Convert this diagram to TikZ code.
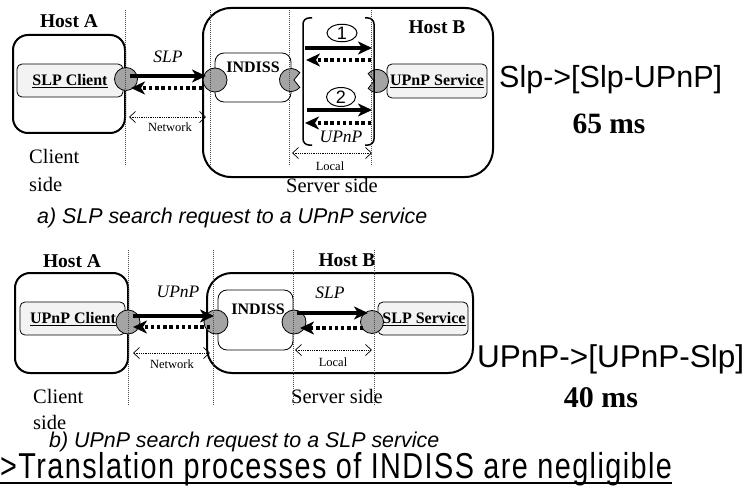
\documentclass[tikz,border=0pt]{standalone}
\usepackage{fontspec}
\setmainfont{Liberation Serif}
\setsansfont{Liberation Sans}
\newfontfamily\narrowsans[FakeStretch=0.8, LetterSpace=4]{Liberation Sans}
\usetikzlibrary{arrows.meta,shapes.geometric}
\definecolor{portgray}{HTML}{A4A4A4}
\definecolor{boxgray}{HTML}{F3F3F3}
\newcommand\fsz[1]{\fontsize{#1}{#1}\selectfont}
% a port drawn as a disc with a shallow wedge cut out, facing the given angle
\newcommand\mouthport[4]{%
  \coordinate (#1) at (#2,#3);
  \filldraw[fill=portgray, draw=black, line width=0.8pt, shift={(#1)}, rotate=#4]
    (40:11.5pt) arc[start angle=40, end angle=320, radius=11.5pt] -- (3pt,0pt) -- cycle;}
\begin{document}
\begin{tikzpicture}[x=1pt,y=-1pt,
  hostbox/.style={draw, line width=2pt, rounded corners=15pt, inner sep=0pt},
  inbox/.style={draw, line width=0.8pt, fill=boxgray, rounded corners=5pt, inner sep=0pt},
  indissbox/.style={draw, line width=0.8pt, fill=white, rounded corners=9pt, inner sep=0pt},
  port/.style={circle, draw, line width=0.8pt, fill=portgray, inner sep=0pt},
  req/.style={line width=3.2pt, -{Stealth[length=14pt, width=13pt, inset=4pt]}},
  resp/.style={line width=3.4pt, dash pattern=on 3.4pt off 2.8pt,
    -{Stealth[length=14pt, width=13pt, inset=4pt]}},
  span/.style={line width=0.6pt, dash pattern=on 0.8pt off 1pt,
    {Straight Barb[length=6pt, width=11pt, line width=0.7pt]}-{Straight Barb[length=6pt, width=11pt, line width=0.7pt]}},
  divider/.style={line width=0.6pt, dash pattern=on 0.8pt off 1.2pt, black!70},
  stepmark/.style={ellipse, draw, line width=1pt, inner sep=0pt, font=\sffamily\fsz{18}},
  hostlabel/.style={font=\bfseries\fsz{19.5}},
  svclabel/.style={font=\bfseries\fsz{16}},
  proto/.style={font=\itshape\fsz{17.5}},
  tiny/.style={font=\fsz{12.5}},
  sidelabel/.style={font=\fsz{20.5}},
  caption/.style={font=\sffamily\itshape\fsz{21.4}, anchor=base west, inner sep=0pt},
  result/.style={font=\sffamily\fsz{30.5}, anchor=base west, inner sep=0pt},
  timing/.style={font=\bfseries\fsz{29.5}, anchor=base, inner sep=0pt}
]
\useasboundingbox (0,0) rectangle (756,495);

% ---------------- a) SLP client -> UPnP service ----------------
\node[hostbox, minimum width=112pt, minimum height=98pt] (hostA1) at (69,84) {};
\node[hostbox, rounded corners=28pt, minimum width=290pt, minimum height=169pt] (hostB1) at (348,92.5) {};
\node[inbox, minimum width=106pt, minimum height=33pt] (slpclient) at (70,80.5) {};
\node[svclabel] at (70,81) {\underline{SLP Client}};
\node[indissbox, minimum width=76pt, minimum height=49pt] (indiss1) at (253,77.5) {};
\node[svclabel] at (253,67) {INDISS};
\node[inbox, minimum width=100pt, minimum height=34pt] (upnpsvc) at (437,81) {};
\node[svclabel] at (437,81.5) {\underline{UPnP Service}};

\node[port, minimum size=23pt] (pA1) at (126,79) {};
\node[port, minimum size=24pt] (pI1) at (215,80) {};
\mouthport{pJ1}{291}{80}{0}
\mouthport{pS1}{377}{81}{180}

% local exchange bracket
\draw[line width=1.5pt, rounded corners=6pt] (312,18) -- (303,18) -- (303,145) -- (312,145);
\draw[line width=1.5pt, rounded corners=6pt] (365,18) -- (374,18) -- (374,145) -- (365,145);
\node[stepmark, minimum width=30pt, minimum height=17pt] (m1) at (342,33) {1};
\node[stepmark, minimum width=29pt, minimum height=19pt] (m2) at (341,97) {2};

\draw[req]  ([shift={(4pt,3pt)}]pA1.center) -- ([shift={(-9pt,4pt)}]pI1.center);
\draw[resp] ([shift={(-13pt,-8pt)}]pI1.center) -- ([shift={(5pt,-9pt)}]pA1.center);
\draw[req]  ([shift={(14pt,32pt)}]pJ1) -- ([shift={(-5pt,33pt)}]pS1);
\draw[resp] ([shift={(-6pt,21pt)}]pS1) -- ([shift={(15pt,20pt)}]pJ1);
\draw[req]  ([shift={(16pt,-30pt)}]pJ1) -- ([shift={(-5pt,-29pt)}]pS1);
\draw[resp] ([shift={(-6pt,-42pt)}]pS1) -- ([shift={(14pt,-43pt)}]pJ1);
\draw[span] ([shift={(3pt,-38pt)}]pA1.center) -- ([shift={(-9pt,-37pt)}]pI1.center);
\draw[span] ([shift={(1pt,-73pt)}]pJ1) -- ([shift={(-5pt,-72pt)}]pS1);

\node[hostlabel] at (69,21) {Host A};
\node[hostlabel] at (437,27) {Host B};
\node[proto] at (168,57) {SLP};
\node[proto] at (341,137) {UPnP};
\node[tiny] at (170,127) {Network};
\node[tiny] at (330,166) {Local};
\node[sidelabel, anchor=base west, inner sep=0pt] at (29,164) {Client};
\node[sidelabel, anchor=base west, inner sep=0pt] at (29,191) {side};
\node[sidelabel, anchor=base, inner sep=0pt] at (332,193) {Server side};
\node[caption] at (37,223) {a) SLP search request to a UPnP service};
\node[result] at (499,88) {Slp->[Slp-UPnP]};
\node[timing] at (609,133) {65 ms};

\foreach \x in {125,210,289,371} \draw[divider] (\x,10) -- (\x,166);

% ---------------- b) UPnP client -> SLP service ----------------
\node[hostbox, minimum width=113pt, minimum height=100pt] (hostA2) at (71.5,323) {};
\node[hostbox, rounded corners=25pt, minimum width=266pt, minimum height=100pt] (hostB2) at (340,323) {};
\node[inbox, minimum width=105pt, minimum height=33pt] (upnpclient) at (72.5,318.5) {};
\node[svclabel] at (73,319) {\underline{UPnP Client}};
\node[indissbox, minimum width=75pt, minimum height=60pt] (indiss2) at (255.5,320) {};
\node[svclabel] at (258,309) {INDISS};
\node[inbox, minimum width=90pt, minimum height=33pt] (slpsvc) at (423,318.5) {};
\node[svclabel] at (424,319) {\underline{SLP Service}};

\node[port, minimum size=24pt] (pA2) at (128,322) {};
\node[port, minimum size=24pt] (pI2) at (216,322) {};
\node[port, minimum size=24pt] (pJ2) at (294,322) {};
\node[port, minimum size=23pt] (pS2) at (372,322) {};

\draw[req]  ([shift={(5pt,6pt)}]pA2.center) -- ([shift={(-2pt,6pt)}]pI2.center);
\draw[resp] ([shift={(-6pt,-5pt)}]pI2.center) -- ([shift={(5pt,-5pt)}]pA2.center);
\draw[req]  ([shift={(3pt,9pt)}]pJ2.center) -- ([shift={(-4pt,9pt)}]pS2.center);
\draw[resp] ([shift={(-9pt,-6pt)}]pS2.center) -- ([shift={(6pt,-6pt)}]pJ2.center);
\draw[span] ([shift={(5pt,-31pt)}]pA2.center) -- ([shift={(-6pt,-31pt)}]pI2.center);
\draw[span] ([shift={(1pt,-28pt)}]pJ2.center) -- ([shift={(0pt,-28pt)}]pS2.center);

\node[hostlabel] at (72,261) {Host A};
\node[hostlabel] at (347,260) {Host B};
\node[proto] at (178,292) {UPnP};
\node[proto] at (330,293) {SLP};
\node[tiny] at (172,364) {Network};
\node[tiny] at (333,362) {Local};
\node[sidelabel, anchor=base west, inner sep=0pt] at (33,403) {Client};
\node[sidelabel, anchor=base west, inner sep=0pt] at (33,429) {side};
\node[sidelabel, anchor=base, inner sep=0pt] at (337,403) {Server side};
\node[caption] at (49,447) {b) UPnP search request to a SLP service};
\node[result, font=\sffamily\fsz{31.5}] at (477,367) {UPnP->[UPnP-Slp]};
\node[timing, font=\bfseries\fsz{30}] at (601,407) {40 ms};

\foreach \x in {128,213,293,374} \draw[divider] (\x,250) -- (\x,405);

% ---------------- conclusion ----------------
\node[font=\narrowsans\fsz{36}, anchor=base west, inner sep=0pt] (concl) at (0,478) {>Translation processes of INDISS are negligible};
\draw[line width=2pt] ([yshift=-5pt]concl.base west) -- ([yshift=-5pt]concl.base east);
\end{tikzpicture}
\end{document}
